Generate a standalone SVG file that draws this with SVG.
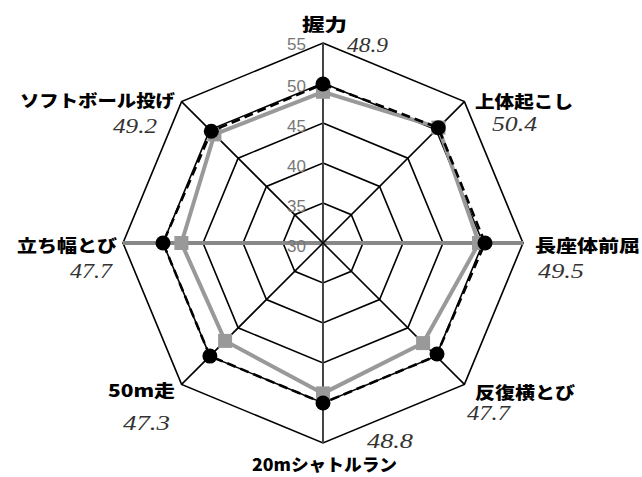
<svg xmlns="http://www.w3.org/2000/svg" width="642" height="477" viewBox="0 0 642 477">
<style>
.ring{fill:none;stroke:#000;stroke-width:1.6}
.ax{stroke:#000;stroke-width:1.6}
.lbl{font-family:"Noto Sans CJK JP","Noto Sans",sans-serif;font-weight:900;font-size:17px;fill:#000}
.val{font-family:"Liberation Serif",serif;font-style:italic;font-size:20px;fill:#333}
.scale{font-family:"Liberation Sans",Arial,sans-serif;font-size:17px;fill:#777;text-anchor:end}
.gser{fill:none;stroke:#999;stroke-width:4;stroke-linejoin:miter}
.bser{fill:none;stroke:#000;stroke-width:2.6;stroke-dasharray:9 5}
.sq{fill:#999}
.dot{fill:#000}
</style>
<rect width="642" height="477" fill="#fff"/>
<g id="grid">
<polygon class="ring" points="323,203 351.28,214.72 363,243 351.28,271.28 323,283 294.72,271.28 283,243 294.72,214.72"/>
<polygon class="ring" points="323,163 379.57,186.43 403,243 379.57,299.57 323,323 266.43,299.57 243,243 266.43,186.43"/>
<polygon class="ring" points="323,123 407.85,158.15 443,243 407.85,327.85 323,363 238.15,327.85 203,243 238.15,158.15"/>
<polygon class="ring" points="323,83 436.14,129.86 483,243 436.14,356.14 323,403 209.86,356.14 163,243 209.86,129.86"/>
<polygon class="ring" points="323,43 464.42,101.58 523,243 464.42,384.42 323,443 181.58,384.42 123,243 181.58,101.58"/>
</g>
<g id="axes">
<line x1="323" y1="43" x2="323" y2="443" stroke="#444" stroke-width="2"/>
<line x1="123" y1="243" x2="523" y2="243" stroke="#888" stroke-width="4"/>
<line class="ax" x1="181.58" y1="101.58" x2="464.42" y2="384.42"/>
<line class="ax" x1="464.42" y1="101.58" x2="181.58" y2="384.42"/>
</g>
<g id="scale-labels">
<text class="scale" x="306" y="50">55</text>
<text class="scale" x="306" y="92">50</text>
<text class="scale" x="306" y="132">45</text>
<text class="scale" x="306" y="172">40</text>
<text class="scale" x="306" y="212">35</text>
<text class="scale" x="306" y="252">30</text>
</g>
<g id="series-gray">
<polygon class="gser" points="323,91.8 438.4,127.6 479,243 423.1,343.1 323,393.4 225.1,340.9 181.4,243 214.4,134.4"/>
<rect class="sq" x="316" y="84.8" width="14" height="14"/>
<rect class="sq" x="431.4" y="120.6" width="14" height="14"/>
<rect class="sq" x="472" y="236" width="14" height="14"/>
<rect class="sq" x="416.1" y="336.1" width="14" height="14"/>
<rect class="sq" x="316" y="386.4" width="14" height="14"/>
<rect class="sq" x="218.1" y="333.9" width="14" height="14"/>
<rect class="sq" x="174.4" y="236" width="14" height="14"/>
<rect class="sq" x="207.4" y="127.4" width="14" height="14"/>
</g>
<g id="series-black">
<polygon class="bser" points="323,84 438.3,127.7 485,243 436.1,356.1 323,403 209.9,356.1 163,243 211.3,131.3"/>
<circle class="dot" cx="323" cy="84" r="7.5"/>
<circle class="dot" cx="438.3" cy="127.7" r="7.5"/>
<circle class="dot" cx="485" cy="243" r="7.5"/>
<circle class="dot" cx="437" cy="354" r="7.5"/>
<circle class="dot" cx="323" cy="403" r="7.5"/>
<circle class="dot" cx="209.9" cy="356.1" r="7.5"/>
<circle class="dot" cx="163" cy="243" r="7.5"/>
<circle class="dot" cx="211.3" cy="131.3" r="7.5"/>
</g>
<g id="node-akuryoku">
<text class="lbl" x="302" y="31" textLength="45" lengthAdjust="spacingAndGlyphs">握力</text>
<text class="val" x="347" y="52" textLength="41" lengthAdjust="spacingAndGlyphs">48.9</text>
</g>
<g id="node-joutai">
<text class="lbl" x="475" y="108" textLength="98" lengthAdjust="spacingAndGlyphs">上体起こし</text>
<text class="val" x="492" y="131" textLength="45" lengthAdjust="spacingAndGlyphs">50.4</text>
</g>
<g id="node-chouza">
<text class="lbl" x="535" y="252" textLength="105" lengthAdjust="spacingAndGlyphs">長座体前屈</text>
<text class="val" x="538" y="278" textLength="46" lengthAdjust="spacingAndGlyphs">49.5</text>
</g>
<g id="node-hanpuku">
<text class="val" x="467" y="420" textLength="43" lengthAdjust="spacingAndGlyphs">47.7</text>
<text class="lbl" x="475" y="399" textLength="100" lengthAdjust="spacingAndGlyphs">反復横とび</text>
</g>
<g id="node-shuttle">
<text class="val" x="367" y="448" textLength="46" lengthAdjust="spacingAndGlyphs">48.8</text>
<text class="lbl" x="252" y="471" textLength="145" lengthAdjust="spacingAndGlyphs">20mシャトルラン</text>
</g>
<g id="node-50m">
<text class="lbl" x="108" y="397" textLength="67" lengthAdjust="spacingAndGlyphs">50m走</text>
<text class="val" x="123" y="430" textLength="47" lengthAdjust="spacingAndGlyphs">47.3</text>
</g>
<g id="node-tachihaba">
<text class="lbl" x="17" y="252" textLength="100" lengthAdjust="spacingAndGlyphs">立ち幅とび</text>
<text class="val" x="70" y="278" textLength="42" lengthAdjust="spacingAndGlyphs">47.7</text>
</g>
<g id="node-softball">
<text class="lbl" x="20" y="107" textLength="155" lengthAdjust="spacingAndGlyphs">ソフトボール投げ</text>
<text class="val" x="113" y="133" textLength="44" lengthAdjust="spacingAndGlyphs">49.2</text>
</g>
</svg>
